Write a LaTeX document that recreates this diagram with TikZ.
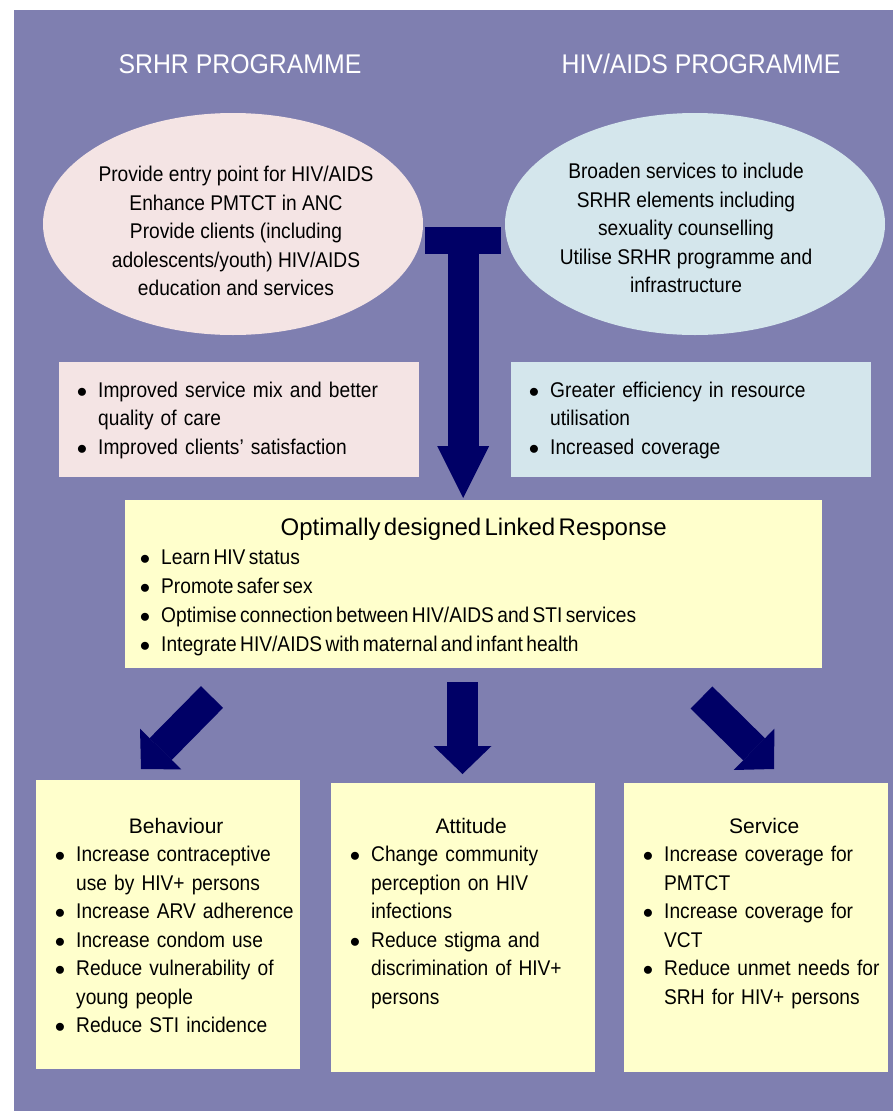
\documentclass[tikz,border=0pt]{standalone}
\usepackage{fontspec}
\usepackage{enumitem}
\setmainfont{Liberation Sans}
\newfontfamily\narrowfont{Liberation Sans}[FakeStretch=0.9]
\newfontfamily\headfont{Liberation Sans}[FakeStretch=0.92]
\usetikzlibrary{shapes.geometric}
\usetikzlibrary{arrows.meta}
\usetikzlibrary{positioning}
\definecolor{BG-PURPLE}{RGB}{127,127,176}
\definecolor{ARROW-NAVY}{RGB}{0,0,102}
\definecolor{SRHR-PINK}{RGB}{244,228,228}
\definecolor{HIV-BLUE}{RGB}{212,230,236}
\definecolor{LINK-YELLOW}{RGB}{255,255,204}

\newcommand{\bodytext}{\narrowfont\fontsize{21.3}{28.5}\selectfont}
\newcommand{\boxtitle}[2]{{\normalfont\fontsize{#1}{29}\selectfont\centering #2\par}}
\newcommand{\liftby}[1]{\par\vspace{#1}\hrule height 0pt\relax}
\newlist{dotlist}{itemize}{1}
\setlist[dotlist]{label=$\bullet$,leftmargin=22pt,labelsep=11pt,itemsep=0pt,topsep=0pt,parsep=0pt,partopsep=0pt}

\begin{document}
\begin{tikzpicture}[x=1pt,y=-1pt,every node/.style={inner sep=0pt},
    programme/.style={ellipse,minimum width=380pt,minimum height=222pt},
    heading/.style={anchor=base,text=white,font=\headfont\fontsize{27}{30}\selectfont},
    gain/.style={anchor=north west,minimum width=360pt,minimum height=115pt,inner xsep=17pt,text width=326pt,font=\bodytext},
    outcome/.style={anchor=north west,fill=LINK-YELLOW,minimum width=264pt,minimum height=289pt},
    outtext/.style={anchor=north west,text width=244pt,font=\bodytext},
    bigarrow/.style={ARROW-NAVY,line width=31pt,-{Triangle[width=52pt,length=52pt,line width=0pt]}},
    blockarrow/.style={ARROW-NAVY,line width=31pt,-{Triangle[width=58pt,length=28pt,line width=0pt]}}]
	\useasboundingbox (0,0) rectangle (893,1111);

	% draw background
	\fill[BG-PURPLE] (14,10) rectangle (893,1111);

	% draw headings
	\node (srhrhead) [heading] at (240,73) {SRHR PROGRAMME};
	\node (hivhead) [heading] at (701,73) {HIV/AIDS PROGRAMME};

	% draw programme ellipses
	\node (srhr) [programme,fill=SRHR-PINK] at (233,224) {};
	\node (hiv) [programme,fill=HIV-BLUE] at (695,224) {};
	\node (srhrtext) [align=center,font=\bodytext] at (236,231) {Provide entry point for HIV/AIDS\\Enhance PMTCT in ANC\\Provide clients (including\\adolescents/youth) HIV/AIDS\\education and services};
	\node (hivtext) [align=center,font=\bodytext] at (686,228) {Broaden services to include\\SRHR elements including\\sexuality counselling\\Utilise SRHR programme and\\infrastructure};

	% draw gain boxes
	\node (srhrgain) [gain,fill=SRHR-PINK] at (59,362) {\begin{dotlist}
		\item Improved service mix and better\newline quality of care
		\item Improved clients’ satisfaction
	\end{dotlist}\liftby{12pt}};
	\node (hivgain) [gain,fill=HIV-BLUE] at (511,362) {\begin{dotlist}
		\item Greater efficiency in resource\newline utilisation
		\item Increased coverage
	\end{dotlist}\liftby{12pt}};

	% draw linked response
	\node (linked) [anchor=north west,fill=LINK-YELLOW,minimum width=697pt,minimum height=168pt,inner xsep=14pt,text width=669pt] at (125,500) {%
		\boxtitle{24}{Optimally designed Linked Response}
		\narrowfont\fontsize{21.3}{29}\selectfont
		\begin{dotlist}
			\item Learn HIV status
			\item Promote safer sex
			\item Optimise connection between HIV/AIDS and STI services
			\item Integrate HIV/AIDS with maternal and infant health
		\end{dotlist}\liftby{-6pt}};

	% draw outcome boxes
	\node (behbox) [outcome] at (36,780) {};
	\node (attbox) [outcome] at (331,783) {};
	\node (svcbox) [outcome] at (624,783) {};
	\node (behtext) [outtext,below right=38pt and 18pt of behbox.north west] {%
		\boxtitle{21}{Behaviour}
		\begin{dotlist}
			\item Increase contraceptive\newline use by HIV+ persons
			\item Increase ARV adherence
			\item Increase condom use
			\item Reduce vulnerability of\newline young people
			\item Reduce STI incidence
		\end{dotlist}};
	\node (atttext) [outtext,below right=35pt and 18pt of attbox.north west] {%
		\boxtitle{21}{Attitude}
		\begin{dotlist}
			\item Change community\newline perception on HIV\newline infections
			\item Reduce stigma and\newline discrimination of HIV+\newline persons
		\end{dotlist}};
	\node (svctext) [outtext,below right=35pt and 18pt of svcbox.north west] {%
		\boxtitle{21}{Service}
		\begin{dotlist}
			\item Increase coverage for\newline PMTCT
			\item Increase coverage for\newline VCT
			\item Reduce unmet needs for\newline SRH for HIV+ persons
		\end{dotlist}};

	% draw arrows
	\node (tbar) [anchor=north west,fill=ARROW-NAVY,minimum width=76pt,minimum height=27pt] at (425,227) {};
	\draw[bigarrow,shorten >=2pt] (tbar.south) -- (tbar.south |- linked.north);
	\coordinate (behstart) at (212,697);
	\coordinate (behtip) at (141,769);
	\coordinate (attstart) at (462.5,682);
	\coordinate (svcstart) at (701.5,697.5);
	\coordinate (svctip) at (774,769);
	\draw[blockarrow] (behstart) -- (behtip);
	\draw[blockarrow,shorten >=9pt] (attstart) -- (attstart |- attbox.north);
	\draw[blockarrow] (svcstart) -- (svctip);
\end{tikzpicture}
\end{document}
